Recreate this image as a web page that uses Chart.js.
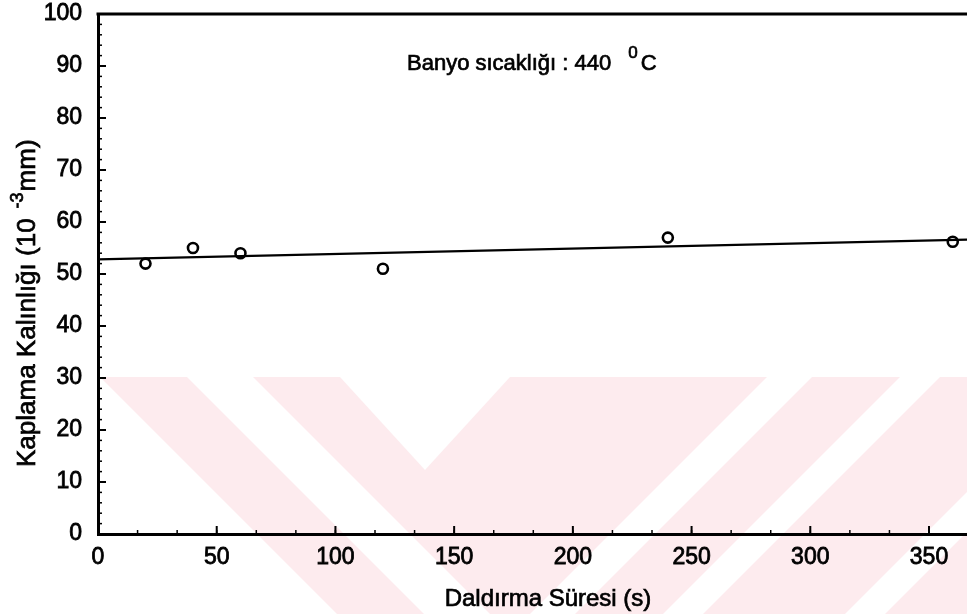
<!DOCTYPE html>
<html><head><meta charset="utf-8">
<script src="https://cdn.jsdelivr.net/npm/chart.js@4.4.1/dist/chart.umd.min.js"></script>
<style>html,body{margin:0;padding:0;background:#fff;overflow:hidden}#wrap{width:967px;height:614px;position:relative}</style>
</head><body><div id="wrap"><canvas id="c" width="967" height="614"></canvas></div>
<script>
// ---- data ----
const dipTimes = [20, 40, 60, 120, 240, 360];
const thickness = [52, 55, 54, 51, 57, 56.2];
const fitX = [0, 366];
const fitY = [52.8, 56.6];
const xTicks = [0, 50, 100, 150, 200, 250, 300, 350];
const yTicks = [0, 10, 20, 30, 40, 50, 60, 70, 80, 90, 100];
const xMinorStep = 50 / 3;
const yMinorStep = 2;
const xTitle = 'Daldırma Süresi (s)';
const yTitleMain = 'Kaplama Kalınlığı (10';
const yTitleSup = '-3';
const yTitleEnd = 'mm)';
const noteMain = 'Banyo sıcaklığı : 440';
const noteSup = '0';
const noteEnd = 'C';

const FONT = '"Liberation Sans", Arial, Helvetica, sans-serif';

function txt(ctx, s, x, y) {
  ctx.fillText(s, x, y);
  ctx.strokeText(s, x, y);
}

const decor = {
  id: 'decor',
  beforeDraw(chart) {
    const ctx = chart.ctx;
    ctx.save();
    ctx.fillStyle = '#fdebee';
    ctx.beginPath();
    ctx.moveTo(100, 377); ctx.lineTo(967, 377); ctx.lineTo(967, 614); ctx.lineTo(337, 614); ctx.closePath();
    ctx.fill();
    ctx.fillStyle = '#ffffff';
    const polys = [
      [[187,377],[253,377],[490,614],[424,614]],
      [[340,377],[510,377],[425,470]],
      [[530,614],[575,614],[812,377],[767,377]],
      [[663,614],[703,614],[940,377],[900,377]],
      [[845,614],[885,614],[967,532],[967,492]]
    ];
    polys.forEach(p => { ctx.beginPath(); ctx.moveTo(p[0][0], p[0][1]); for (let i = 1; i < p.length; i++) ctx.lineTo(p[i][0], p[i][1]); ctx.closePath(); ctx.fill(); });
    ctx.restore();
  },
  afterDraw(chart) {
    const ctx = chart.ctx;
    const xs = chart.scales.x, ys = chart.scales.y;
    const a = chart.chartArea;
    ctx.save();
    ctx.strokeStyle = '#000';
    // top border
    ctx.lineWidth = 3;
    ctx.beginPath(); ctx.moveTo(a.left - 1.5, a.top); ctx.lineTo(a.right, a.top); ctx.stroke();
    // major ticks (inward)
    ctx.lineWidth = 2;
    yTicks.forEach(v => { const y = ys.getPixelForValue(v); ctx.beginPath(); ctx.moveTo(a.left, y); ctx.lineTo(a.left + 8, y); ctx.stroke(); });
    xTicks.forEach(v => { const x = xs.getPixelForValue(v); ctx.beginPath(); ctx.moveTo(x, a.bottom); ctx.lineTo(x, a.bottom - 8); ctx.stroke(); });
    // minor ticks
    ctx.lineWidth = 1.5;
    for (let v = 0; v <= ys.max + 1e-6; v += yMinorStep) { const y = ys.getPixelForValue(v); ctx.beginPath(); ctx.moveTo(a.left, y); ctx.lineTo(a.left + 4, y); ctx.stroke(); }
    for (let v = 0; v <= xs.max + 1e-6; v += xMinorStep) { const x = xs.getPixelForValue(v); ctx.beginPath(); ctx.moveTo(x, a.bottom); ctx.lineTo(x, a.bottom - 4); ctx.stroke(); }
    // annotation
    ctx.fillStyle = '#000';
    ctx.lineWidth = 0.7;
    ctx.textBaseline = 'alphabetic';
    ctx.textAlign = 'left';
    ctx.font = '22px ' + FONT;
    let tx = 407, ty = 70;
    txt(ctx, noteMain, tx, ty);
    tx += ctx.measureText(noteMain).width + 17;
    ctx.font = '17px ' + FONT;
    txt(ctx, noteSup, tx, ty - 12);
    tx += ctx.measureText(noteSup).width + 3;
    ctx.font = '22px ' + FONT;
    txt(ctx, noteEnd, tx, ty);
    // x title
    ctx.textAlign = 'center';
    ctx.font = '24px ' + FONT;
    txt(ctx, xTitle, 548, 606);
    // y title (rotated)
    ctx.translate(35, 467);
    ctx.rotate(-Math.PI / 2);
    ctx.textAlign = 'left';
    ctx.font = '26px ' + FONT;
    let px = 0;
    txt(ctx, yTitleMain, px, 0);
    px += ctx.measureText(yTitleMain).width + 10;
    ctx.font = '18px ' + FONT;
    txt(ctx, yTitleSup, px, -12);
    px += ctx.measureText(yTitleSup).width + 1;
    ctx.font = '26px ' + FONT;
    txt(ctx, yTitleEnd, px, 0);
    ctx.restore();
  }
};

new Chart(document.getElementById('c'), {
  type: 'scatter',
  data: {
    datasets: [
      {
        label: 'fit',
        data: fitX.map((x, i) => ({ x, y: fitY[i] })),
        showLine: true,
        borderColor: '#000',
        borderWidth: 2.2,
        pointRadius: 0,
        fill: false,
        order: 2
      },
      {
        label: 'data',
        data: dipTimes.map((x, i) => ({ x, y: thickness[i] })),
        showLine: false,
        pointStyle: 'circle',
        pointRadius: 5,
        pointBorderWidth: 2.6,
        pointBorderColor: '#000',
        pointBackgroundColor: 'rgba(0,0,0,0)',
        order: 1
      }
    ]
  },
  options: {
    responsive: false,
    animation: false,
    devicePixelRatio: 1,
    layout: { autoPadding: false, padding: { top: 14, left: 0, right: 0, bottom: 0 } },
    plugins: { legend: { display: false }, tooltip: { enabled: false } },
    scales: {
      x: {
        type: 'linear', min: 0, max: 366,
        afterBuildTicks: s => { s.ticks = xTicks.map(v => ({ value: v })); },
        afterFit: s => { s.height = 80; s.paddingLeft = 0; s.paddingRight = 0; s.paddingTop = 0; s.paddingBottom = 0; },
        grid: { display: false, drawTicks: false },
        border: { display: true, color: '#000', width: 3 },
        ticks: { color: '#000', textStrokeColor: '#000', textStrokeWidth: 0.8, font: { family: FONT, size: 23 }, padding: 10, maxRotation: 0, autoSkip: false }
      },
      y: {
        type: 'linear', min: 0, max: 100,
        afterBuildTicks: s => { s.ticks = yTicks.map(v => ({ value: v })); },
        afterFit: s => { s.width = 98; s.paddingLeft = 0; s.paddingRight = 0; s.paddingTop = 0; s.paddingBottom = 0; },
        grid: { display: false, drawTicks: false },
        border: { display: true, color: '#000', width: 3 },
        ticks: { color: '#000', textStrokeColor: '#000', textStrokeWidth: 0.8, font: { family: FONT, size: 23 }, padding: 16, autoSkip: false }
      }
    }
  },
  plugins: [decor]
});
</script>
</body></html>
